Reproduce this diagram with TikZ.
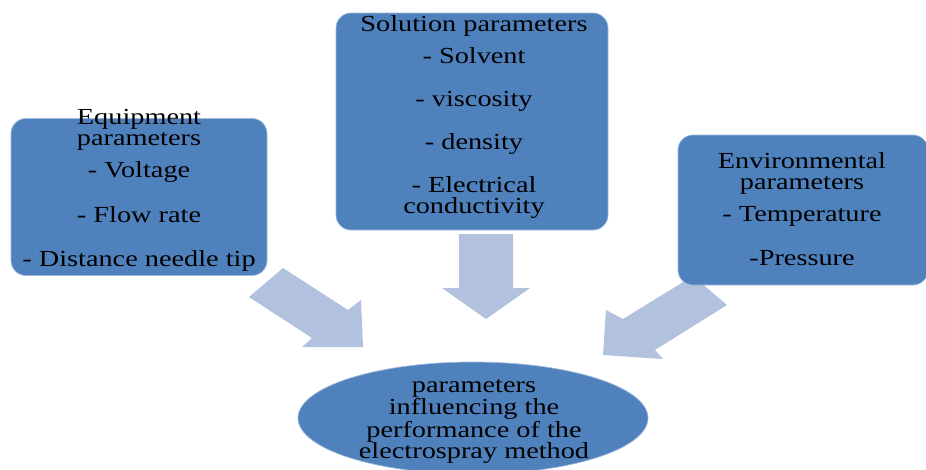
\documentclass[tikz,border=0pt]{standalone}
\usepackage{fontspec}
\setmainfont{Liberation Serif}
\newfontfamily\boxfont{Liberation Serif}[FakeStretch=1.23]
\usetikzlibrary{shapes.geometric}
\definecolor{boxblue}{HTML}{4F81BD}
\definecolor{arrowblue}{RGB}{178,193,221}
\begin{document}
\begin{tikzpicture}[x=1pt,y=-1pt,
  pbox/.style={draw=boxblue!55!white, line width=0.7pt, fill=boxblue, rounded corners=15pt, inner sep=0pt},
  blockarrow/.style={fill=arrowblue, draw=none},
  txt/.style={anchor=base, inner sep=0pt, text=black, align=center, font=\boxfont\fontsize{23}{21}\selectfont}
]
\useasboundingbox (0,0) rectangle (926,469);

% block arrows
\fill[blockarrow] (283,268) -- (348,310) -- (361,300) -- (363,347) -- (302,347) -- (312,338) -- (249,297) -- cycle;
\fill[blockarrow] (459,234) -- (513,234) -- (513,288) -- (530,288) -- (486,319) -- (442,288) -- (459,288) -- cycle;
\fill[blockarrow] (693,276) -- (623,319) -- (606,310) -- (603,355) -- (663,359) -- (655,350) -- (727,305) -- cycle;

% boxes
\node[pbox, minimum width=256pt, minimum height=157pt] (equip) at (139,197) {};
\node[pbox, minimum width=272pt, minimum height=217pt] (sol) at (472,121.5) {};
\node[pbox, minimum width=250pt, minimum height=150pt] (env) at (803,210) {};
\node[ellipse, fill=boxblue, draw=boxblue!55!white, line width=0.7pt, minimum width=350pt, minimum height=112pt, inner sep=0pt] (infl) at (473,418) {};

% equipment text (anchor = baseline of last line)
\node[txt] (e1) at (139,145) {Equipment\\parameters};
\node[txt] (e3) at (139,177) {- Voltage};
\node[txt] (e4) at (139,222) {- Flow rate};
\node[txt] (e5) at (139,266) {- Distance needle tip};

% solution text
\node[txt] (s1) at (474,31) {Solution parameters};
\node[txt] (s2) at (474,63) {- Solvent};
\node[txt] (s3) at (474,106) {- viscosity};
\node[txt] (s4) at (474,149) {- density};
\node[txt] (s5) at (474,213) {- Electrical\\conductivity};

% environmental text
\node[txt] (v1) at (802,189) {Environmental\\parameters};
\node[txt] (v3) at (802,221) {- Temperature};
\node[txt] (v4) at (802,265) {-Pressure};

% ellipse text
\node[txt] (p1) at (474,458) {parameters\\influencing the\\performance of the\\electrospray method};
\end{tikzpicture}
\end{document}
